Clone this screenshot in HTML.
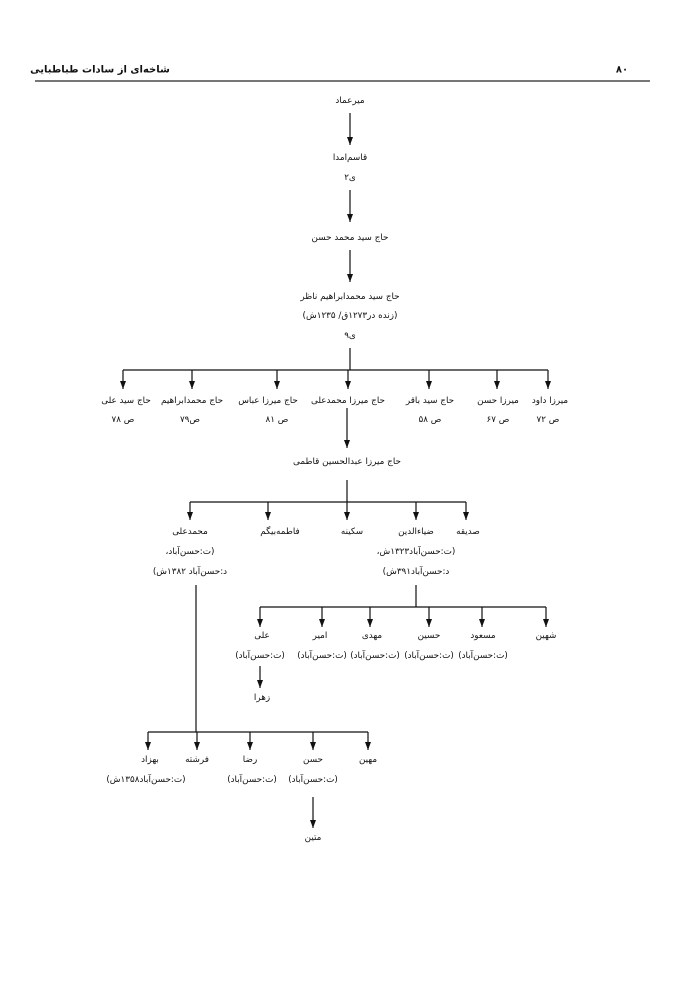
<!DOCTYPE html>
<html><head><meta charset="utf-8"><style>
html,body{margin:0;padding:0;background:#fff;}
svg{display:block;}
text{font-family:"DejaVu Sans","Liberation Sans",sans-serif;font-size:8.8px;fill:#111;text-anchor:middle;dominant-baseline:central;direction:rtl;}
</style></head><body>
<svg width="700" height="989" viewBox="0 0 700 989" xmlns="http://www.w3.org/2000/svg">
<defs>
<marker id="m" viewBox="0 0 6 8" markerWidth="6" markerHeight="8" refX="3" refY="8" orient="0" markerUnits="userSpaceOnUse"><path d="M0,0 L6,0 L3,8 z" fill="#111"/></marker></defs>
<text x="100" y="70" style="font-weight:bold;font-size:10px">شاخه‌ای از سادات طباطبایی</text>
<text x="622" y="70" style="font-weight:bold;font-size:10px">۸۰</text>
<line x1="35" y1="81" x2="650" y2="81" stroke="#777" stroke-width="2"/>
<g stroke="#111" stroke-width="1.2" fill="none">
<line x1="350" y1="113" x2="350" y2="145" marker-end="url(#m)"/>
<line x1="350" y1="190" x2="350" y2="222" marker-end="url(#m)"/>
<line x1="350" y1="250" x2="350" y2="282" marker-end="url(#m)"/>
<line x1="350" y1="348" x2="350" y2="370"/>
<line x1="123" y1="370" x2="548" y2="370"/>
<line x1="123" y1="370" x2="123" y2="389" marker-end="url(#m)"/>
<line x1="192" y1="370" x2="192" y2="389" marker-end="url(#m)"/>
<line x1="277" y1="370" x2="277" y2="389" marker-end="url(#m)"/>
<line x1="348" y1="370" x2="348" y2="389" marker-end="url(#m)"/>
<line x1="429" y1="370" x2="429" y2="389" marker-end="url(#m)"/>
<line x1="497" y1="370" x2="497" y2="389" marker-end="url(#m)"/>
<line x1="548" y1="370" x2="548" y2="389" marker-end="url(#m)"/>
<line x1="347" y1="408" x2="347" y2="448" marker-end="url(#m)"/>
<line x1="347" y1="480" x2="347" y2="502"/>
<line x1="190" y1="502" x2="466" y2="502"/>
<line x1="190" y1="502" x2="190" y2="520" marker-end="url(#m)"/>
<line x1="268" y1="502" x2="268" y2="520" marker-end="url(#m)"/>
<line x1="347" y1="502" x2="347" y2="520" marker-end="url(#m)"/>
<line x1="416" y1="502" x2="416" y2="520" marker-end="url(#m)"/>
<line x1="466" y1="502" x2="466" y2="520" marker-end="url(#m)"/>
<line x1="416" y1="585" x2="416" y2="607"/>
<line x1="260" y1="607" x2="546" y2="607"/>
<line x1="260" y1="607" x2="260" y2="627" marker-end="url(#m)"/>
<line x1="322" y1="607" x2="322" y2="627" marker-end="url(#m)"/>
<line x1="370" y1="607" x2="370" y2="627" marker-end="url(#m)"/>
<line x1="429" y1="607" x2="429" y2="627" marker-end="url(#m)"/>
<line x1="482" y1="607" x2="482" y2="627" marker-end="url(#m)"/>
<line x1="546" y1="607" x2="546" y2="627" marker-end="url(#m)"/>
<line x1="260" y1="666" x2="260" y2="688" marker-end="url(#m)"/>
<line x1="196" y1="585" x2="196" y2="732"/>
<line x1="148" y1="732" x2="368" y2="732"/>
<line x1="148" y1="732" x2="148" y2="750" marker-end="url(#m)"/>
<line x1="197" y1="732" x2="197" y2="750" marker-end="url(#m)"/>
<line x1="250" y1="732" x2="250" y2="750" marker-end="url(#m)"/>
<line x1="313" y1="732" x2="313" y2="750" marker-end="url(#m)"/>
<line x1="368" y1="732" x2="368" y2="750" marker-end="url(#m)"/>
<line x1="313" y1="797" x2="313" y2="828" marker-end="url(#m)"/>
</g>
<text x="350" y="101">میرعماد</text>
<text x="350" y="158">قاسم‌امدا</text>
<text x="350" y="178">ی۲</text>
<text x="350" y="238">حاج سید محمد حسن</text>
<text x="350" y="297">حاج سید محمدابراهیم ناظر</text>
<text x="350" y="316">(زنده در۱۲۷۳ق/ ۱۲۳۵ش)</text>
<text x="350" y="336">ی۹</text>
<text x="126" y="401">حاج سید علی</text><text x="123" y="420">ص ۷۸</text>
<text x="192" y="401">حاج محمدابراهیم</text><text x="190" y="420">ص۷۹</text>
<text x="268" y="401">حاج میرزا عباس</text><text x="277" y="420">ص ۸۱</text>
<text x="348" y="401">حاج میرزا محمدعلی</text>
<text x="430" y="401">حاج سید باقر</text><text x="430" y="420">ص ۵۸</text>
<text x="498" y="401">میرزا حسن</text><text x="498" y="420">ص ۶۷</text>
<text x="550" y="401">میرزا داود</text><text x="548" y="420">ص ۷۲</text>
<text x="347" y="462">حاج میرزا عبدالحسین قاطمی</text>
<text x="190" y="532">محمدعلی</text><text x="190" y="552">(ت:حسن‌آباد،</text><text x="190" y="572">د:حسن‌آباد ۱۳۸۲ش)</text>
<text x="280" y="532">فاطمه‌بیگم</text>
<text x="352" y="532">سکینه</text>
<text x="416" y="532">ضیاءالدین</text><text x="416" y="552">(ت:حسن‌آباد۱۳۲۳ش،</text><text x="416" y="572">د:حسن‌آباد۳۹۱ش)</text>
<text x="468" y="532">صدیقه</text>
<text x="262" y="636">علی</text><text x="260" y="656">(ت:حسن‌آباد)</text>
<text x="320" y="636">امیر</text><text x="322" y="656">(ت:حسن‌آباد)</text>
<text x="372" y="636">مهدی</text><text x="375" y="656">(ت:حسن‌آباد)</text>
<text x="429" y="636">حسین</text><text x="429" y="656">(ت:حسن‌آباد)</text>
<text x="483" y="636">مسعود</text><text x="483" y="656">(ت:حسن‌آباد)</text>
<text x="546" y="636">شهین</text>
<text x="262" y="698">زهرا</text>
<text x="150" y="760">بهزاد</text><text x="146" y="780">(ت:حسن‌آباد۱۳۵۸ش)</text>
<text x="197" y="760">فرشته</text>
<text x="250" y="760">رضا</text><text x="252" y="780">(ت:حسن‌آباد)</text>
<text x="313" y="760">حسن</text><text x="313" y="780">(ت:حسن‌آباد)</text>
<text x="368" y="760">مهین</text>
<text x="313" y="838">متین</text>
</svg>
</body></html>
